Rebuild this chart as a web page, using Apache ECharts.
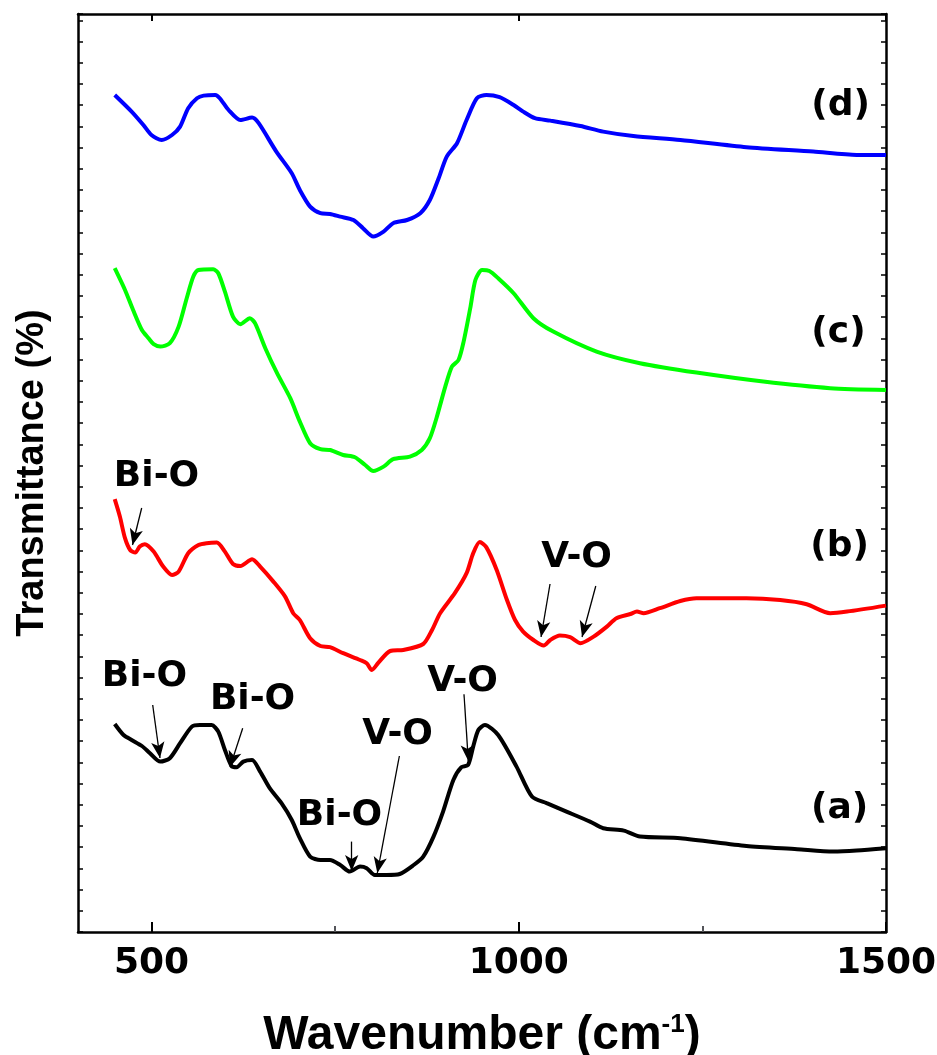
<!DOCTYPE html>
<html><head><meta charset="utf-8">
<script src="https://cdn.jsdelivr.net/npm/echarts@6/dist/echarts.min.js"></script>
<style>html,body{margin:0;padding:0;background:#fff}#c{width:937px;height:1055px}</style>
</head><body><div id="c"></div>
<script>
// (a) black
const wnA = [450,462,473,487,498,512,525,539,555,566,582,591,600,609,616,625,637,648,661,677,691,702,716,730,743,757,770,784,793,804,820,838,857,870,884,897,911,922,931,938,945,954,972,997,1018,1038,1065,1097,1115,1143,1165,1220,1310,1379,1428,1460,1500];
const tA = [10.4,9.85,9.6,9.3,8.94,8.52,8.69,9.44,10.27,10.35,10.35,10.02,9.1,8.3,8.24,8.52,8.6,8.02,7.19,6.44,5.6,4.69,3.77,3.6,3.6,3.35,3.02,3.27,3.19,2.85,2.85,2.9,3.35,3.77,4.77,6.02,7.6,8.24,8.35,9.27,10.1,10.35,9.85,8.27,6.77,6.44,6.02,5.52,5.19,5.07,4.77,4.69,4.3,4.14,4.02,4.07,4.19];
// (b) red
const wnB = [450,457,464,471,478,484,491,503,516,528,537,550,564,575,589,600,611,621,637,648,666,682,693,702,716,730,743,761,784,793,800,809,825,843,870,882,893,913,929,938,947,956,970,984,995,1006,1020,1034,1043,1056,1070,1084,1102,1120,1133,1152,1161,1170,1192,1220,1242,1310,1356,1392,1424,1447,1500];
const tB = [21.64,20.77,19.69,19.1,18.97,19.27,19.39,19.02,18.27,17.85,18.02,18.94,19.35,19.44,19.47,19.02,18.4,18.3,18.64,18.27,17.52,16.77,15.94,15.6,14.69,14.3,14.24,13.94,13.6,13.44,13.1,13.47,14.05,14.1,14.4,15.1,15.94,16.94,17.94,18.94,19.5,19.23,18.1,16.6,15.6,15.02,14.6,14.32,14.6,14.82,14.74,14.44,14.77,15.27,15.69,15.9,16.02,15.94,16.19,16.55,16.69,16.69,16.6,16.39,15.94,16.02,16.32];
// (c) green
const wnC = [450,464,475,487,496,503,512,525,537,548,557,564,584,591,600,611,621,634,641,655,671,689,702,716,730,743,761,777,791,802,816,829,852,868,879,888,900,909,918,925,934,941,950,960,972,993,1020,1047,1106,1165,1242,1333,1424,1500];
const tC = [33.19,32.1,31.1,30.1,29.69,29.39,29.27,29.44,30.27,31.69,32.77,33.1,33.14,32.94,32.02,30.77,30.39,30.69,30.44,29.19,27.94,26.69,25.52,24.44,24.14,24.1,23.85,23.74,23.35,23.05,23.27,23.64,23.77,24.1,24.69,25.69,27.27,28.27,28.6,29.52,31.19,32.6,33.1,33.05,32.69,31.94,30.69,30.02,29.02,28.44,27.97,27.52,27.19,27.1];
// (d) blue
const wnD = [450,473,489,500,514,528,539,550,562,571,587,593,605,621,637,646,670,691,702,716,730,743,757,775,788,802,816,829,848,866,879,891,902,916,929,943,956,974,993,1006,1022,1043,1084,1115,1156,1220,1310,1401,1460,1500];
const tD = [41.85,41.02,40.35,39.85,39.6,39.85,40.27,41.19,41.69,41.82,41.85,41.69,41.1,40.6,40.72,40.44,39.02,37.94,37.1,36.27,35.94,35.9,35.77,35.6,35.19,34.77,35.02,35.44,35.6,35.94,36.6,37.69,38.77,39.44,40.6,41.69,41.85,41.74,41.35,41.02,40.69,40.57,40.3,40.02,39.8,39.6,39.24,39.02,38.85,38.85];

const xTicks = [500, 1000, 1500];
const xMinorTicks = [750, 1250];

// text annotations: [wavenumber, transmittance, text]
const noteTexts = [
  [507.6, 22.75, 'Bi-O'],
  [491.2, 12.75, 'Bi-O'],
  [638.3, 11.6, 'Bi-O'],
  [756.7, 5.8, 'Bi-O'],
  [835.7, 9.85, 'V-O'],
  [924.2, 12.5, 'V-O'],
  [1079.4, 18.7, 'V-O'],
  [1438.8, 41.3, '(d)'],
  [1436, 29.95, '(c)'],
  [1437.5, 19.25, '(b)'],
  [1437.5, 6.15, '(a)']
];
// arrows: [fromWn, fromT, toWn, toT]
const noteArrows = [
  [486.7, 21.2, 474.2, 19.35],
  [501.7, 11.35, 511.6, 8.7],
  [624.2, 10.19, 607, 8.25],
  [772.6, 4.52, 772.6, 3.05],
  [837.5, 8.8, 807.5, 2.95],
  [925.5, 11.89, 931.4, 8.55],
  [1042.6, 17.4, 1030.4, 14.75],
  [1104.9, 17.3, 1086.2, 14.75]
];

const zip = (a, b) => a.map((v, i) => [v, b[i]]);
const X0 = 400, X1 = 1500, Y0 = 0, Y1 = 45.9;
const lineSeries = (name, wn, t, color) => ({
  name, type: 'line', data: zip(wn, t), showSymbol: false, smooth: 0.25,
  lineStyle: { color, width: 4 }, itemStyle: { color }, z: 3
});

const chart = echarts.init(document.getElementById('c'), null, { renderer: 'canvas' });
const axisLine = { show: true, lineStyle: { color: '#000', width: 2.5 } };
chart.setOption({
  animation: false,
  backgroundColor: '#fff',
  grid: { left: 78, right: 51, top: 14, bottom: 123, containLabel: false, outerBoundsMode: 'none' },
  xAxis: [
    { type: 'value', position: 'bottom', min: X0, max: X1, axisLine,
      splitLine: { show: false },
      axisTick: { show: true, inside: true, length: 10, lineStyle: { width: 2 }, customValues: xTicks },
      axisLabel: { show: true, customValues: xTicks, margin: 14, color: '#000', formatter: v => String(v),
        fontFamily: 'DejaVu Sans', fontWeight: 'bold', fontSize: 36 },
      name: 'Wavenumber (cm{sup|-1})', nameLocation: 'middle', nameGap: 80,
      nameTextStyle: { color: '#000', fontFamily: 'Liberation Sans', fontWeight: 'bold', fontSize: 48,
        rich: { sup: { color: '#000', fontFamily: 'Liberation Sans', fontWeight: 'bold', fontSize: 26, verticalAlign: 'top', padding: [0, 0, 22, 0] } } } },
    { type: 'value', position: 'bottom', min: X0, max: X1, axisLine: { show: false },
      splitLine: { show: false },
      axisTick: { show: true, inside: true, length: 6, lineStyle: { width: 2 }, customValues: xMinorTicks },
      axisLabel: { show: false } },
    { type: 'value', position: 'top', min: X0, max: X1, axisLine,
      splitLine: { show: false },
      axisTick: { show: true, inside: true, length: 7, lineStyle: { width: 2 }, customValues: xTicks },
      axisLabel: { show: false } }
  ],
  yAxis: [
    { type: 'value', position: 'left', min: Y0, max: Y1, interval: 1.06, axisLine,
      splitLine: { show: false },
      axisTick: { show: true, inside: true, length: 5, lineStyle: { width: 1.5 } },
      axisLabel: { show: false },
      name: 'Transmittance (%)', nameLocation: 'middle', nameGap: 26, nameRotate: 90,
      nameTextStyle: { color: '#000', fontFamily: 'Liberation Sans', fontWeight: 'bold', fontSize: 38 } },
    { type: 'value', position: 'right', min: Y0, max: Y1, interval: 1.06, axisLine,
      splitLine: { show: false },
      axisTick: { show: true, inside: true, length: 5, lineStyle: { width: 1.5 } },
      axisLabel: { show: false } }
  ],
  series: [
    lineSeries('(a)', wnA, tA, '#000000'),
    lineSeries('(b)', wnB, tB, '#ff0000'),
    lineSeries('(c)', wnC, tC, '#00ff00'),
    lineSeries('(d)', wnD, tD, '#0000ff'),
    {
      type: 'scatter', symbolSize: 1, itemStyle: { color: 'rgba(255,255,255,0)' }, z: 5,
      data: noteTexts.map(n => ({ value: [n[0], n[1]], name: n[2] })),
      label: { show: true, position: [0, 0], align: 'center', verticalAlign: 'middle',
        formatter: p => p.name, color: '#000', opacity: 1, textBorderWidth: 0,
        fontFamily: 'DejaVu Sans', fontWeight: 'bold', fontSize: 36 },
      emphasis: { disabled: true },
      markLine: {
        silent: true, symbol: ['none', 'arrow'], symbolSize: [10, 16], animation: false,
        label: { show: false },
        lineStyle: { color: '#000', width: 1.3, type: 'solid' },
        data: noteArrows.map(a => [{ coord: [a[0], a[1]] }, { coord: [a[2], a[3]] }])
      }
    }
  ]
});
</script></body></html>
